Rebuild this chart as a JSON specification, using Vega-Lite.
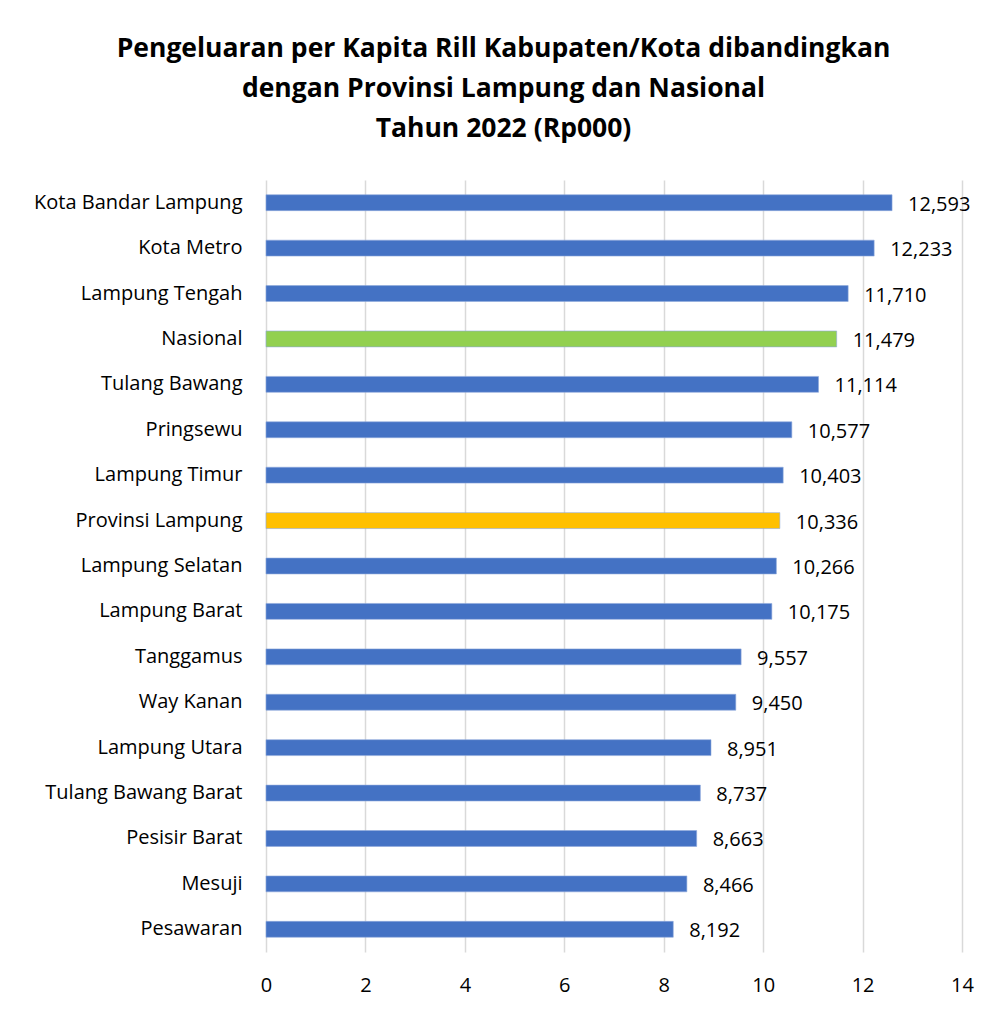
{
  "$schema": "https://vega.github.io/schema/vega-lite/v6.json",
  "width": 696,
  "height": 772,
  "autosize": {"type": "none"},
  "padding": {"left": 266, "top": 180, "right": 31, "bottom": 58},
  "background": "white",
  "title": {
    "text": ["Pengeluaran per Kapita Rill Kabupaten/Kota dibandingkan", "dengan Provinsi Lampung dan Nasional", "Tahun 2022  (Rp000)"],
    "anchor": "middle",
    "frame": "bounds",
    "font": "Open Sans",
    "fontSize": 26.5,
    "fontWeight": "bold",
    "color": "#000000",
    "lineHeight": 40,
    "offset": 38
  },
  "data": {
    "values": [
      {"wilayah": "Kota Bandar Lampung", "nilai": 12593, "jenis": "Kabupaten/Kota"},
      {"wilayah": "Kota Metro", "nilai": 12233, "jenis": "Kabupaten/Kota"},
      {"wilayah": "Lampung Tengah", "nilai": 11710, "jenis": "Kabupaten/Kota"},
      {"wilayah": "Nasional\u00a0", "nilai": 11479, "jenis": "Nasional"},
      {"wilayah": "Tulang Bawang", "nilai": 11114, "jenis": "Kabupaten/Kota"},
      {"wilayah": "Pringsewu", "nilai": 10577, "jenis": "Kabupaten/Kota"},
      {"wilayah": "Lampung Timur", "nilai": 10403, "jenis": "Kabupaten/Kota"},
      {"wilayah": "Provinsi Lampung\u00a0", "nilai": 10336, "jenis": "Provinsi"},
      {"wilayah": "Lampung Selatan", "nilai": 10266, "jenis": "Kabupaten/Kota"},
      {"wilayah": "Lampung Barat", "nilai": 10175, "jenis": "Kabupaten/Kota"},
      {"wilayah": "Tanggamus", "nilai": 9557, "jenis": "Kabupaten/Kota"},
      {"wilayah": "Way Kanan", "nilai": 9450, "jenis": "Kabupaten/Kota"},
      {"wilayah": "Lampung Utara", "nilai": 8951, "jenis": "Kabupaten/Kota"},
      {"wilayah": "Tulang Bawang Barat", "nilai": 8737, "jenis": "Kabupaten/Kota"},
      {"wilayah": "Pesisir Barat", "nilai": 8663, "jenis": "Kabupaten/Kota"},
      {"wilayah": "Mesuji", "nilai": 8466, "jenis": "Kabupaten/Kota"},
      {"wilayah": "Pesawaran", "nilai": 8192, "jenis": "Kabupaten/Kota"}
    ]
  },
  "encoding": {
    "y": {
      "field": "wilayah",
      "type": "nominal",
      "sort": null,
      "scale": {"paddingInner": 0.65, "paddingOuter": 0.325},
      "axis": {
        "title": null,
        "domain": false,
        "ticks": false,
        "grid": false,
        "labelPadding": 24,
        "labelFont": "Open Sans",
        "labelFontSize": 20,
        "labelColor": "#000000",
        "labelLimit": 400
      }
    },
    "x": {
      "field": "nilai",
      "type": "quantitative",
      "scale": {"domain": [0, 14000], "nice": false},
      "axis": {
        "title": null,
        "values": [0, 2000, 4000, 6000, 8000, 10000, 12000, 14000],
        "labelExpr": "format(datum.value / 1000, 'd')",
        "labelFlush": false,
        "domain": false,
        "ticks": false,
        "grid": true,
        "gridColor": "#D9D9D9",
        "gridWidth": 1.5,
        "labelPadding": 23,
        "labelFont": "Open Sans",
        "labelFontSize": 20,
        "labelColor": "#000000"
      }
    }
  },
  "layer": [
    {
      "mark": {"type": "bar", "stroke": "#8FAADC", "strokeWidth": 0.6},
      "encoding": {
        "color": {
          "field": "jenis",
          "type": "nominal",
          "scale": {"domain": ["Kabupaten/Kota", "Nasional", "Provinsi"], "range": ["#4472C4", "#92D050", "#FFC000"]},
          "legend": null
        }
      }
    },
    {
      "mark": {"type": "text", "align": "left", "baseline": "middle", "dx": 16, "dy": 2, "font": "Open Sans", "fontSize": 20, "color": "#000000"},
      "encoding": {
        "text": {"field": "nilai", "type": "quantitative", "format": ","}
      }
    }
  ],
  "config": {
    "view": {"stroke": null}
  }
}
